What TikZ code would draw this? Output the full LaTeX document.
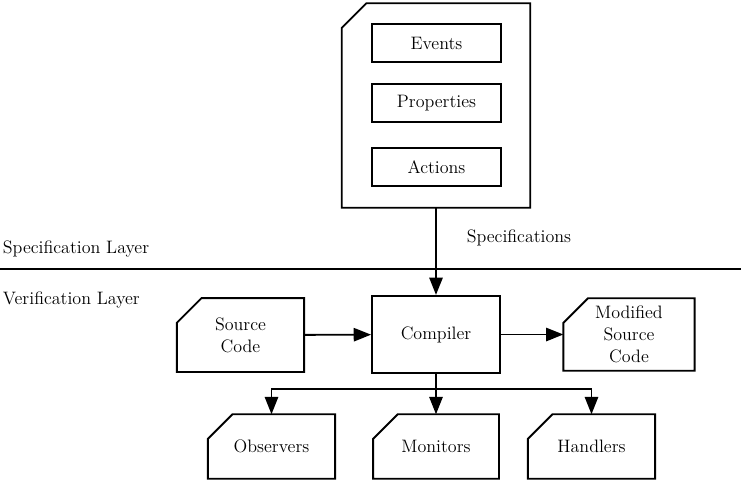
\documentclass[tikz,border=0pt]{standalone}
\usepackage{tikz}
\usetikzlibrary{arrows.meta, positioning}

\tikzset{
	box/.style={draw, line width=1.4pt, align=center, inner sep=0pt},
	card/.style={box, draw=none},
	outline/.style={line width=1.4pt, line join=miter},
	flow/.style={line width=1.4pt, -{Triangle[length=13pt,width=10pt]}}
}

\begin{document}
\begin{tikzpicture}[x=0.75pt,y=-0.75pt,font=\fontsize{13.5}{16.5}\selectfont]
	\useasboundingbox (0,0) rectangle (746,490);
	\node[card,minimum width=140pt,minimum height=152pt] (spec) at (436,105.5) {};
	\foreach \n/\t/\y in {events/Events/43,props/Properties/103,actions/Actions/167}{
		\node[box,minimum width=97pt,minimum height=28.5pt] (\n) at (436.5,\y) {\t};}
	\draw[line width=1.4pt] (0,269) -- (741,269);
	\node[anchor=west,inner sep=2pt] (speclayer) at (0,249) {Specification Layer};
	\node[anchor=west,inner sep=2pt] (verlayer) at (0,300) {Verification Layer};
	\node (specs) at (519,238) {Specifications};
	\node[box,minimum width=96pt,minimum height=58pt] (comp) at (436,334.5) {Compiler};
	\node[card,minimum width=94pt,minimum height=54pt] (src) at (240.5,335) {Source\\Code};
	\node[card,minimum width=97pt,minimum height=53pt] (mod) at (629,334.5) {Modified\\Source\\Code};
	\node[card,minimum width=94pt,minimum height=47pt] (obs) at (271.5,446.5) {Observers};
	\node[card,minimum width=93pt,minimum height=47pt] (mon) at (436,446.5) {Monitors};
	\node[card,minimum width=94pt,minimum height=47pt] (hand) at (591.5,446.5) {Handlers};
	\foreach \c in {spec,src,mod,obs,mon,hand}{
		\draw[outline] ([yshift=-18.5pt]\c.north west) -- ([xshift=18.5pt]\c.north west)
			-- (\c.north east) -- (\c.south east) -- (\c.south west) -- cycle;}
	\coordinate (split) at (436,389);
	\draw[flow] (spec) -- (comp);
	\draw[flow] (src) -- (comp);
	\draw[flow] (comp) -- (mod);
	\draw[line width=1.4pt] (comp) -- (split);
	\draw[flow] (split) -| (obs);
	\draw[flow] (split) -- (mon);
	\draw[flow] (split) -| (hand);
\end{tikzpicture}
\end{document}
